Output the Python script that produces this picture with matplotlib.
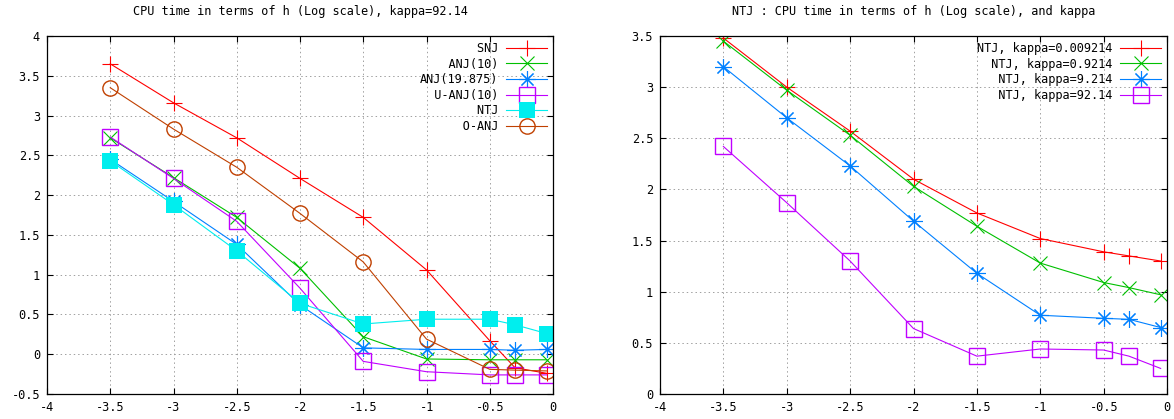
import matplotlib
matplotlib.use('Agg')
import matplotlib.pyplot as plt

plt.rcParams['font.family'] = ['DejaVu Sans Mono']

# log10(h) values
hLog = [-3.5, -3, -2.5, -2, -1.5, -1, -0.5, -0.3, -0.05]

# left panel: CPU time (log) for kappa=92.14
snj = [3.65, 3.16, 2.72, 2.21, 1.72, 1.06, 0.17, -0.17, -0.24]
anj10 = [2.72, 2.22, 1.72, 1.08, 0.22, -0.06, -0.07, -0.07, -0.07]
anj19 = [2.45, 1.92, 1.38, 0.62, 0.08, 0.06, 0.06, 0.05, 0.06]
uanj10 = [2.73, 2.21, 1.67, 0.83, -0.09, -0.22, -0.26, -0.26, -0.26]
ntj = [2.43, 1.88, 1.30, 0.64, 0.38, 0.44, 0.44, 0.37, 0.26]
oanj = [3.35, 2.83, 2.35, 1.77, 1.16, 0.19, -0.19, -0.20, -0.21]

# right panel: NTJ for several kappa
ntjK1 = [3.48, 3.00, 2.57, 2.10, 1.77, 1.52, 1.39, 1.35, 1.30]
ntjK2 = [3.45, 2.97, 2.53, 2.03, 1.64, 1.28, 1.09, 1.04, 0.97]
ntjK3 = [3.20, 2.70, 2.23, 1.69, 1.18, 0.77, 0.74, 0.73, 0.65]
ntjK4 = [2.42, 1.87, 1.30, 0.64, 0.37, 0.44, 0.43, 0.37, 0.25]

leftLabels = ['SNJ', 'ANJ(10)', 'ANJ(19.875)', 'U-ANJ(10)', 'NTJ', 'O-ANJ']
rightLabels = ['NTJ, kappa=0.009214', 'NTJ, kappa=0.9214', 'NTJ, kappa=9.214', 'NTJ, kappa=92.14']

RED = '#ff0000'
GREEN = '#00c000'
BLUE = '#0080ff'
MAGENTA = '#c000ff'
CYAN = '#00eeee'
BROWN = '#c04000'

FS = 8.6
STAR = (8, 2, 0)


def pad(labels):
	width = max(len(s) for s in labels)
	return [s.rjust(width) for s in labels]


def styleAxes(ax, yticks, ylim):
	ax.set_xlim(-4, 0)
	ax.set_ylim(*ylim)
	ax.set_xticks([-4, -3.5, -3, -2.5, -2, -1.5, -1, -0.5, 0])
	ax.set_xticklabels(['-4', '-3.5', '-3', '-2.5', '-2', '-1.5', '-1', '-0.5', '0'])
	ax.set_yticks(yticks)
	ax.set_yticklabels([('%g' % v) for v in yticks])
	ax.tick_params(direction='in', length=4, width=0.8, top=True, right=True,
				   labelsize=FS, pad=5)
	ax.grid(True, color='#a0a0a0', linestyle=(0, (1.5, 3)), linewidth=0.7)
	for sp in ax.spines.values():
		sp.set_linewidth(0.9)


fig = plt.figure(figsize=(11.74, 4.19), dpi=100)
axL = fig.add_axes([47 / 1174, 25 / 419, 506 / 1174, 358 / 419])
axR = fig.add_axes([660 / 1174, 25 / 419, 507 / 1174, 358 / 419])

lw = 0.8
labsL = pad(leftLabels)
axL.plot(hLog, snj, color=RED, lw=lw, marker='+', ms=12, mew=lw, label=labsL[0])
axL.plot(hLog, anj10, color=GREEN, lw=lw, marker='x', ms=10, mew=lw, label=labsL[1])
axL.plot(hLog, anj19, color=BLUE, lw=lw, marker=STAR, ms=12, mew=lw, label=labsL[2])
axL.plot(hLog, uanj10, color=MAGENTA, lw=lw, marker='s', ms=12, mew=1.0, mec=MAGENTA,
		 mfc='none', label=labsL[3])
axL.plot(hLog, ntj, color=CYAN, lw=lw, marker='s', ms=12, mew=0, label=labsL[4])
axL.plot(hLog, oanj, color=BROWN, lw=lw, marker='o', ms=11, mew=1.0, mec=BROWN,
		 mfc='none', label=labsL[5])
styleAxes(axL, [-0.5, 0, 0.5, 1, 1.5, 2, 2.5, 3, 3.5, 4], (-0.5, 4))
axL.set_title('CPU time in terms of h (Log scale), kappa=92.14', fontsize=FS, pad=15)

labsR = pad(rightLabels)
axR.plot(hLog, ntjK1, color=RED, lw=lw, marker='+', ms=12, mew=lw, label=labsR[0])
axR.plot(hLog, ntjK2, color=GREEN, lw=lw, marker='x', ms=10, mew=lw, label=labsR[1])
axR.plot(hLog, ntjK3, color=BLUE, lw=lw, marker=STAR, ms=12, mew=lw, label=labsR[2])
axR.plot(hLog, ntjK4, color=MAGENTA, lw=lw, marker='s', ms=12, mew=1.0, mec=MAGENTA,
		 mfc='none', label=labsR[3])
styleAxes(axR, [0, 0.5, 1, 1.5, 2, 2.5, 3, 3.5], (0, 3.5))
axR.set_title('NTJ : CPU time in terms of h (Log scale), and kappa', fontsize=FS, pad=15)

for ax in (axL, axR):
	ax.legend(loc='upper right', frameon=False, markerfirst=False, numpoints=1,
			  fontsize=FS, handlelength=3.4, handletextpad=0.7, labelspacing=0.22,
			  borderaxespad=0.3, borderpad=0.2)

fig.savefig('out.png', dpi=100)
